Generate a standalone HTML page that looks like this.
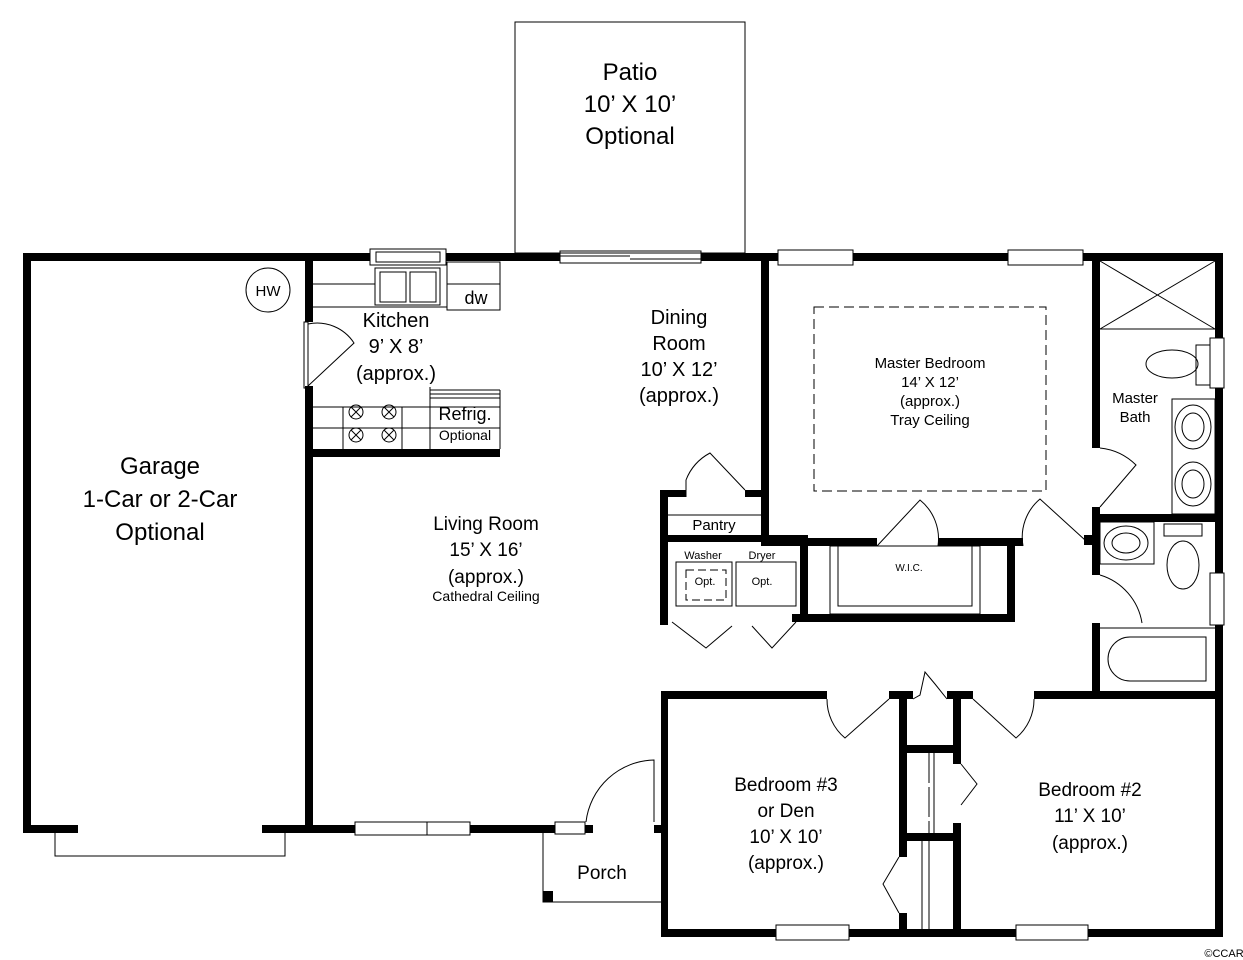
<!DOCTYPE html>
<html><head><style>html,body{margin:0;padding:0;background:#fff}svg{display:block}text{font-family:"Liberation Sans",Arial,sans-serif;fill:#000;text-anchor:middle}</style></head>
<body>
<svg width="1243" height="960" viewBox="0 0 1243 960" xmlns="http://www.w3.org/2000/svg">
<g fill="none" stroke="#000" stroke-width="1">
<!-- patio -->
<rect x="515" y="22" width="230" height="231"/>
<!-- garage door -->
<polyline points="55,833 55,856 285,856 285,833"/>
<!-- porch -->
<polyline points="543,833 543,902 661,902"/>
<!-- windows -->
<rect x="370" y="249" width="76" height="16"/><rect x="376" y="252" width="64" height="10"/>
<rect x="560" y="251" width="141" height="12"/><line x1="560" y1="256" x2="630" y2="256"/><line x1="630" y1="259" x2="701" y2="259"/>
<rect x="778" y="250" width="75" height="15"/><rect x="1008" y="250" width="75" height="15"/>
<rect x="1210" y="338" width="14" height="50"/><rect x="1210" y="573" width="14" height="52"/>
<rect x="355" y="822" width="115" height="13"/><line x1="427" y1="822" x2="427" y2="835"/>
<rect x="776" y="925" width="73" height="15"/><rect x="1016" y="925" width="72" height="15"/>
<rect x="555" y="822" width="30" height="12"/>
<!-- kitchen counters -->
<polyline points="313,284 375,284"/><polyline points="313,307 447,307"/>
<rect x="375" y="268" width="65" height="37"/><rect x="380" y="272" width="26" height="30"/><rect x="410" y="272" width="26" height="30"/>
<rect x="447" y="262" width="53" height="48"/><line x1="447" y1="284" x2="500" y2="284"/>
<line x1="313" y1="407" x2="500" y2="407"/><line x1="313" y1="428" x2="500" y2="428"/>
<line x1="343" y1="407" x2="343" y2="449"/><line x1="402" y1="407" x2="402" y2="449"/><line x1="430" y1="387" x2="430" y2="449"/>
<line x1="430" y1="390" x2="500" y2="390"/><line x1="430" y1="394" x2="500" y2="394"/><line x1="430" y1="398" x2="500" y2="398"/>
<line x1="500" y1="390" x2="500" y2="449"/>
<circle cx="356" cy="412" r="7"/><circle cx="389" cy="412" r="7"/><circle cx="356" cy="435" r="7"/><circle cx="389" cy="435" r="7"/>
<path d="M351,407 l10,10 M361,407 l-10,10 M384,407 l10,10 M394,407 l-10,10 M351,430 l10,10 M361,430 l-10,10 M384,430 l10,10 M394,430 l-10,10"/>
<circle cx="268" cy="290" r="22"/>
<!-- kitchen door -->
<rect x="304" y="322" width="4" height="66"/><path d="M308,386 L354,343 A44,44 0 0 0 308,324"/>
<!-- pantry -->
<line x1="668" y1="515" x2="761" y2="515"/>
<path d="M686,497 L686,480 A52,52 0 0 1 710,453 L745,490"/>
<rect x="676" y="562" width="56" height="44"/><rect x="736" y="562" width="60" height="44"/>
<rect x="686" y="570" width="40" height="30" stroke-dasharray="8,4"/>
<path d="M672,622 L706,648 L732,626 M752,626 L772,648 L796,622"/>
<!-- master -->
<rect x="814" y="307" width="232" height="184" stroke-dasharray="10,5"/>
<path d="M877,546 L920,500 A50,50 0 0 1 938,546 M1023,546 A50,50 0 0 1 1040,499 L1085,540"/>
<rect x="830" y="546" width="150" height="68"/><rect x="838" y="546" width="134" height="60"/>
<path d="M1100,448 A60,60 0 0 1 1136,465 L1100,507"/>
<path d="M1100,575 A60,60 0 0 1 1142,623"/>
<path d="M1100,261 L1215,329 M1215,261 L1100,329 M1100,329 L1215,329"/>
<ellipse cx="1172" cy="364" rx="26" ry="14"/><rect x="1196" y="345" width="14" height="40"/>
<rect x="1172" y="399" width="43" height="115"/>
<ellipse cx="1193" cy="427" rx="18" ry="22"/><ellipse cx="1193" cy="427" rx="11" ry="14"/>
<ellipse cx="1193" cy="484" rx="18" ry="22"/><ellipse cx="1193" cy="484" rx="11" ry="14"/>
<rect x="1100" y="522" width="54" height="42"/><ellipse cx="1126" cy="543" rx="22" ry="17"/><ellipse cx="1126" cy="543" rx="14" ry="10"/>
<rect x="1164" y="524" width="38" height="12"/><ellipse cx="1183" cy="565" rx="16" ry="24"/>
<line x1="1100" y1="628" x2="1215" y2="628"/><path d="M1206,637 L1130,637 A22,22 0 0 0 1130,681 L1206,681 Z"/>
<!-- bedroom doors -->
<path d="M827,699 A50,50 0 0 0 845,738 L889,699"/>
<path d="M913,699 L920,695 L925,672 L935,684 L947,699"/>
<path d="M973,699 L1016,738 A50,50 0 0 0 1034,699"/>
<path d="M961,764 L977,784 L961,805"/>
<path d="M899,857 L883,884 L899,913"/>
<line x1="929" y1="753" x2="929" y2="833" stroke-dasharray="30,4"/><line x1="934" y1="753" x2="934" y2="833"/>
<line x1="922" y1="841" x2="922" y2="929"/><line x1="929" y1="841" x2="929" y2="929"/>
<!-- front door -->
<path d="M586,822 A70,70 0 0 1 654,760 L654,822"/>
</g>
<g fill="#000">
<!-- top wall -->
<rect x="23" y="253" width="347" height="8"/><rect x="446" y="253" width="114" height="8"/>
<rect x="701" y="253" width="77" height="8"/><rect x="853" y="253" width="155" height="8"/><rect x="1083" y="253" width="140" height="8"/>
<!-- garage -->
<rect x="23" y="253" width="8" height="580"/><rect x="23" y="825" width="55" height="8"/><rect x="262" y="825" width="93" height="8"/>
<rect x="305" y="253" width="8" height="69"/><rect x="305" y="386" width="8" height="447"/>
<rect x="470" y="825" width="85" height="8"/><rect x="585" y="825" width="8" height="8"/>
<rect x="654" y="825" width="10" height="8"/>
<rect x="313" y="449" width="187" height="8"/>
<!-- dining/master wall -->
<rect x="761" y="253" width="8" height="293"/>
<rect x="660" y="490" width="26" height="7"/><rect x="745" y="490" width="16" height="7"/>
<rect x="660" y="490" width="8" height="135"/><rect x="660" y="535" width="148" height="7"/>
<rect x="761" y="538" width="116" height="8"/><rect x="938" y="538" width="85" height="8"/>
<rect x="800" y="538" width="8" height="84"/><rect x="792" y="614" width="223" height="8"/><rect x="1007" y="538" width="8" height="84"/>
<!-- master bath -->
<rect x="1092" y="253" width="8" height="195"/><rect x="1092" y="507" width="8" height="68"/><rect x="1092" y="623" width="8" height="76"/>
<rect x="1084" y="535" width="16" height="10"/>
<rect x="1100" y="514" width="115" height="8"/>
<rect x="1215" y="253" width="8" height="85"/><rect x="1215" y="388" width="8" height="185"/><rect x="1215" y="625" width="8" height="312"/>
<!-- bedrooms -->
<rect x="661" y="691" width="166" height="8"/><rect x="661" y="691" width="7" height="246"/>
<rect x="889" y="691" width="24" height="8"/><rect x="947" y="691" width="26" height="8"/><rect x="1034" y="691" width="189" height="8"/>
<rect x="899" y="691" width="8" height="166"/><rect x="899" y="913" width="8" height="24"/>
<rect x="953" y="691" width="8" height="73"/><rect x="953" y="823" width="8" height="114"/>
<rect x="907" y="745" width="46" height="8"/><rect x="907" y="833" width="46" height="8"/>
<rect x="661" y="929" width="115" height="8"/><rect x="849" y="929" width="167" height="8"/><rect x="1088" y="929" width="135" height="8"/>
<rect x="543" y="891" width="10" height="11"/>
</g>
<text x="630" y="80" font-size="24">Patio</text>
<text x="630" y="112" font-size="24">10’ X 10’</text>
<text x="630" y="144" font-size="24">Optional</text>
<text x="160" y="474" font-size="24">Garage</text>
<text x="160" y="507" font-size="24">1-Car or 2-Car</text>
<text x="160" y="540" font-size="24">Optional</text>
<text x="268" y="296" font-size="15">HW</text>
<text x="476" y="304" font-size="18">dw</text>
<text x="396" y="327" font-size="20">Kitchen</text>
<text x="396" y="353" font-size="20">9’ X 8’</text>
<text x="396" y="380" font-size="20">(approx.)</text>
<text x="465" y="420" font-size="18">Refrig.</text>
<text x="465" y="440" font-size="14">Optional</text>
<text x="679" y="324" font-size="20">Dining</text>
<text x="679" y="350" font-size="20">Room</text>
<text x="679" y="376" font-size="20">10’ X 12’</text>
<text x="679" y="402" font-size="20">(approx.)</text>
<text x="486" y="530" font-size="19">Living Room</text>
<text x="486" y="556" font-size="19">15’ X 16’</text>
<text x="486" y="583" font-size="19">(approx.)</text>
<text x="486" y="601" font-size="14">Cathedral Ceiling</text>
<text x="714" y="530" font-size="15">Pantry</text>
<text x="703" y="559" font-size="11">Washer</text><text x="762" y="559" font-size="11">Dryer</text>
<text x="705" y="585" font-size="11">Opt.</text><text x="762" y="585" font-size="11">Opt.</text>
<text x="930" y="368" font-size="15">Master Bedroom</text>
<text x="930" y="387" font-size="15">14’ X 12’</text>
<text x="930" y="406" font-size="15">(approx.)</text>
<text x="930" y="425" font-size="15">Tray Ceiling</text>
<text x="909" y="571" font-size="10">W.I.C.</text>
<text x="1135" y="403" font-size="15">Master</text>
<text x="1135" y="422" font-size="15">Bath</text>
<text x="786" y="791" font-size="19">Bedroom #3</text>
<text x="786" y="817" font-size="19">or Den</text>
<text x="786" y="843" font-size="19">10’ X 10’</text>
<text x="786" y="869" font-size="19">(approx.)</text>
<text x="1090" y="796" font-size="19">Bedroom #2</text>
<text x="1090" y="822" font-size="19">11’ X 10’</text>
<text x="1090" y="849" font-size="19">(approx.)</text>
<text x="602" y="879" font-size="19">Porch</text>
<text x="1224" y="957" font-size="11">©CCAR</text>
</svg>
</body></html>
